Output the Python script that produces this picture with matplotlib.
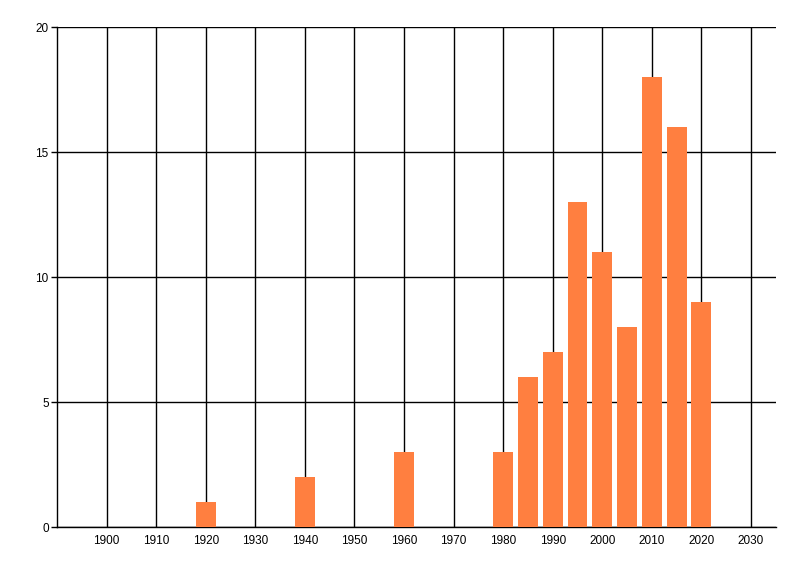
import matplotlib
matplotlib.use('Agg')
import matplotlib.pyplot as plt

# bar data
years = [1920, 1940, 1960, 1980, 1985, 1990, 1995, 2000, 2005, 2010, 2015, 2020]
counts = [1, 2, 3, 3, 6, 7, 13, 11, 8, 18, 16, 9]
x_ticks = list(range(1900, 2031, 10))
y_ticks = [0, 5, 10, 15, 20]

plt.rcParams['font.family'] = ['Liberation Sans', 'DejaVu Sans']

fig = plt.figure(figsize=(8, 5.76), dpi=100)
ax = fig.add_axes([0.0712, 0.085, 0.8985, 0.868])

ax.bar(years, counts, width=4, color='#FF7F40', zorder=3)

ax.set_xlim(1890, 2035)
ax.set_ylim(0, 20)
ax.set_xticks(x_ticks)
ax.set_yticks(y_ticks)
ax.grid(True, color='black', linewidth=1, zorder=1)

for s in ['top', 'right']:
	ax.spines[s].set_visible(False)
ax.spines['left'].set_linewidth(1)
ax.spines['bottom'].set_linewidth(1)

ax.tick_params(axis='x', length=0, pad=6, labelsize=8.5)
ax.tick_params(axis='y', length=4, width=1, pad=2, labelsize=8.5)

plt.savefig('out.png', dpi=100)
